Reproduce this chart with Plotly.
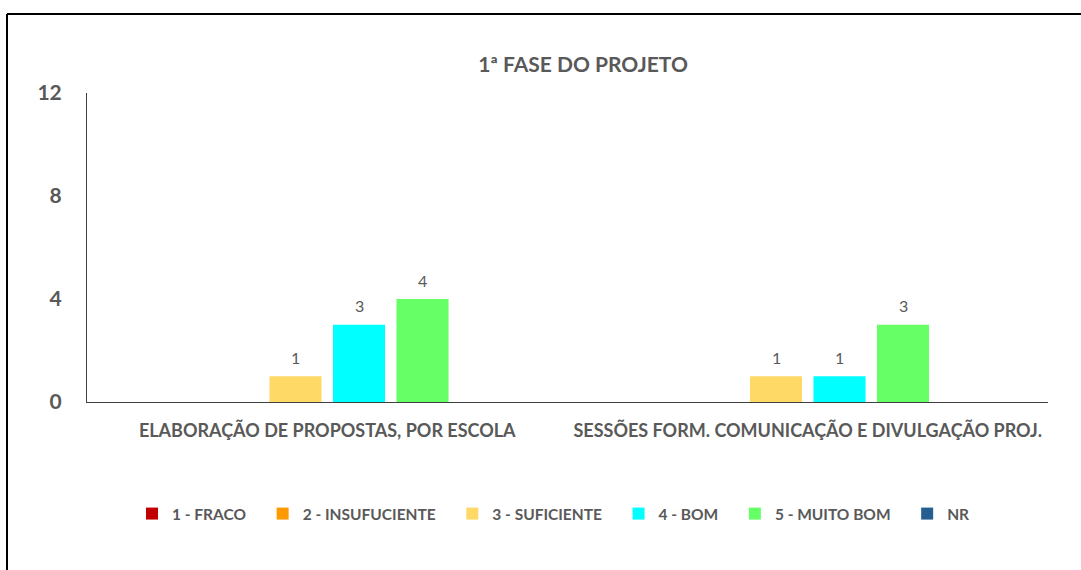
import plotly.graph_objects as go

categories = ["ELABORAÇÃO DE PROPOSTAS, POR ESCOLA", "SESSÕES FORM. COMUNICAÇÃO E DIVULGAÇÃO PROJ."]
series_names = ["1 - FRACO", "2 - INSUFUCIENTE", "3 - SUFICIENTE", "4 - BOM", "5 - MUITO BOM", "NR"]
fraco = [0, 0]
insuficiente = [0, 0]
suficiente = [1, 1]
bom = [3, 1]
muito_bom = [4, 3]
nr = [0, 0]
series_values = [fraco, insuficiente, suficiente, bom, muito_bom, nr]
colors = ["#C00000", "#FF9900", "#FFD966", "#00FFFF", "#66FF66", "#255E91"]
y_ticks = [0, 4, 8, 12]
title_text = "1ª FASE DO PROJETO"

FONT = "Lato"
GRAY = "#595959"
BARGAP = 0.207

W, H = 1081, 570
plot_l, plot_r, plot_t, plot_b = 87, 1048, 93, 402

fig = go.Figure()
for name, vals, col in zip(series_names, series_values, colors):
    fig.add_trace(go.Bar(
        name=name + "\u2003", x=categories, y=vals,
        marker=dict(color=col, line=dict(width=0)),
    ))

# data labels (only non-zero values), placed over each bar through the axis scale
n = len(series_names)
slot = (1 - BARGAP) / n
for i, vals in enumerate(series_values):
    for ci, v in enumerate(vals):
        if v > 0:
            fig.add_annotation(x=ci + (i - (n - 1) / 2) * slot, y=v, text=str(v),
                               showarrow=False, yanchor="middle", yshift=19,
                               font=dict(family=FONT, size=16, color=GRAY))

fig.update_layout(
    width=W, height=H,
    margin=dict(l=plot_l, r=W - plot_r, t=plot_t, b=H - plot_b),
    paper_bgcolor="white", plot_bgcolor="white",
    barmode="group", bargap=BARGAP, bargroupgap=0.18,
    title=dict(text=title_text, x=583 / W, xanchor="center", y=1 - 65 / H, yanchor="middle",
               font=dict(family=FONT, size=21, color=GRAY, weight="bold")),
    font=dict(family=FONT, color=GRAY),
    showlegend=True,
    legend=dict(orientation="h", x=(559 - 87) / 961, xanchor="center", y=(402 - 514) / 309, yanchor="middle",
                font=dict(family=FONT, size=15.5, color=GRAY, weight="bold"),
                itemwidth=30, traceorder="normal"),
    xaxis=dict(showline=True, linecolor="#404040", linewidth=1, ticks="",
               tickfont=dict(family=FONT, size=18, color=GRAY, weight="bold"), ticklabelstandoff=12),
    yaxis=dict(range=[0, 12], tickvals=y_ticks, showgrid=False, zeroline=False,
               showline=True, linecolor="#404040", linewidth=1, ticks="",
               tickfont=dict(family=FONT, size=21, color=GRAY, weight="bold"), ticklabelstandoff=20),
)

# outer chart border (top and left edges visible)
bx0 = (7 - 87) / 961
by0 = (402 - 14) / 309
fig.add_shape(type="line", xref="paper", yref="paper", x0=bx0, x1=1.1,
              y0=by0, y1=by0, line=dict(color="black", width=2))
fig.add_shape(type="line", xref="paper", yref="paper", x0=bx0, x1=bx0,
              y0=by0, y1=-0.7, line=dict(color="black", width=2))

fig.write_html("out.html", config={"displayModeBar": False},
               post_script="document.body.style.margin='0';document.body.style.overflow='hidden';")
